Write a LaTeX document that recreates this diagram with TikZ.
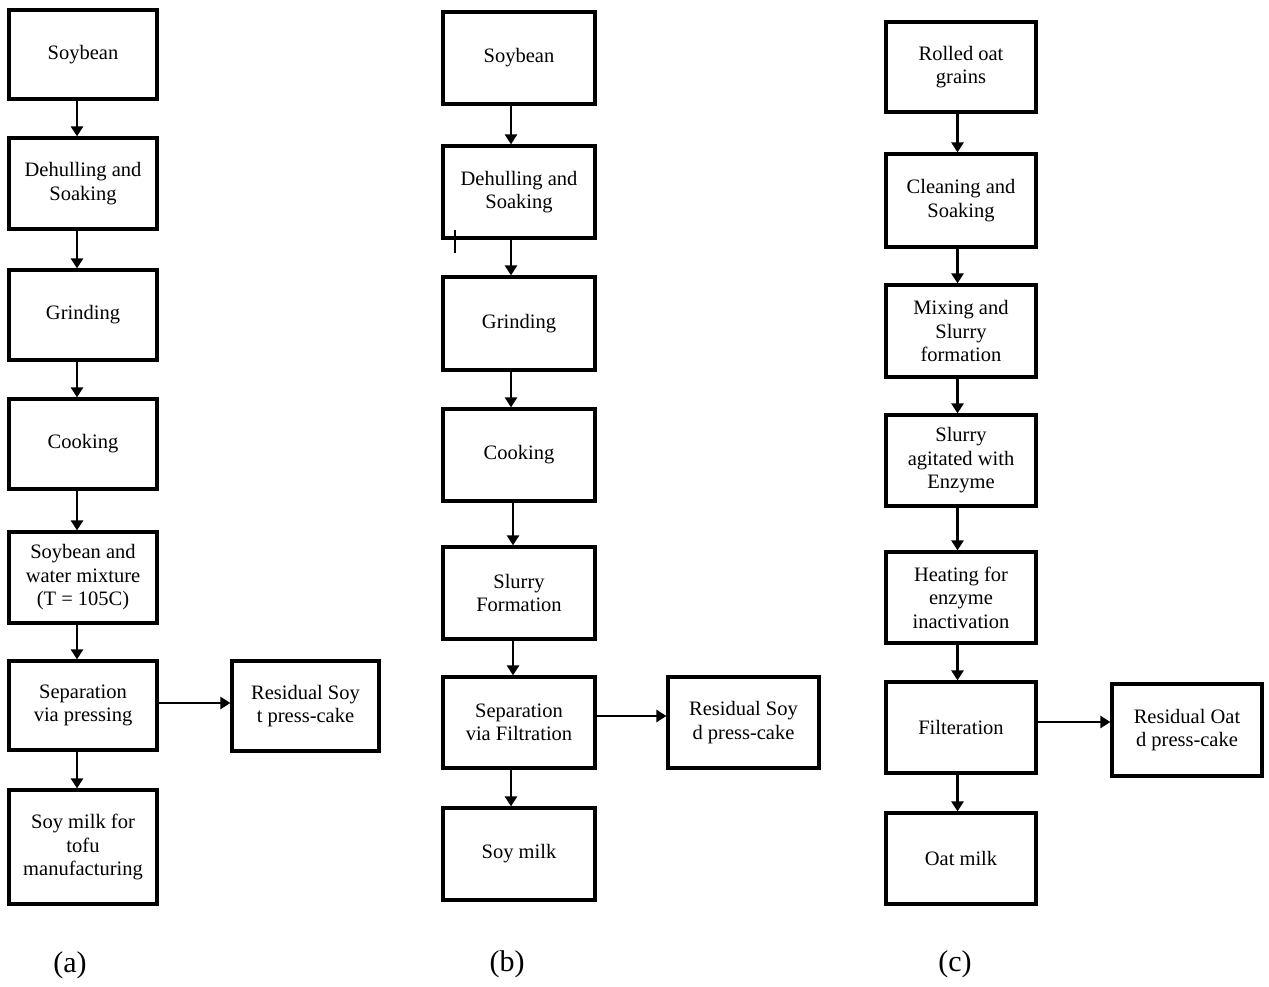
\documentclass[tikz,border=0pt]{standalone}
\usepackage{fontspec}
\setmainfont{Liberation Serif}
\usetikzlibrary{arrows.meta}
\begin{document}
\begin{tikzpicture}[x=1pt,y=-1pt,
  box/.style={draw=black, line width=3.2pt, align=center, inner sep=2pt,
    font=\fontsize{20.5}{23.5}\selectfont},
  arr/.style={draw=black, line width=2.5pt, -{Triangle[width=12pt,length=10pt]}},
  lbl/.style={font=\fontsize{30}{34}\selectfont}]
\useasboundingbox (0,0) rectangle (1269,987);
% ---------- (a) ----------
\node[box, minimum width=148pt, minimum height=89pt]  (a1) at (83,54.5)  {Soybean};
\node[box, minimum width=148pt, minimum height=91pt]  (a2) at (83,183.5) {Dehulling and\\Soaking};
\node[box, minimum width=148pt, minimum height=90pt]  (a3) at (83,315)   {Grinding};
\node[box, minimum width=148pt, minimum height=90pt]  (a4) at (83,444)   {Cooking};
\node[box, minimum width=148pt, minimum height=91pt]  (a5) at (83,577.5) {Soybean and\\water mixture\\(T = 105C)};
\node[box, minimum width=148pt, minimum height=89pt]  (a6) at (83,705.5) {Separation\\via pressing};
\node[box, minimum width=148pt, minimum height=114pt] (a7) at (83,847)   {Soy milk for\\tofu\\manufacturing};
\node[box, minimum width=147pt, minimum height=90pt]  (ar) at (305.5,706) {Residual Soy\\t press-cake};
\foreach \s/\t in {a1/a2,a2/a3,a3/a4,a4/a5,a5/a6,a6/a7}
  \draw[arr] ([xshift=-6pt]\s.south) -- ([xshift=-6pt]\t.north);
\draw[arr] ([yshift=2.5pt]a6.east) -- ([yshift=2.5pt]a6.east -| ar.west);
\node[lbl] (la) at (70,965) {(a)};
% ---------- (b) ----------
\node[box, minimum width=152pt, minimum height=92pt] (b1) at (519,58)    {Soybean};
\node[box, minimum width=152pt, minimum height=92pt] (b2) at (519,192)   {Dehulling and\\Soaking};
\node[box, minimum width=152pt, minimum height=93pt] (b3) at (519,323.5) {Grinding};
\node[box, minimum width=152pt, minimum height=92pt] (b4) at (519,455)   {Cooking};
\node[box, minimum width=152pt, minimum height=92pt] (b5) at (519,593)   {Slurry\\Formation};
\node[box, minimum width=152pt, minimum height=91pt] (b6) at (519,722.5) {Separation\\via Filtration};
\node[box, minimum width=152pt, minimum height=92pt] (b7) at (519,854)   {Soy milk};
\node[box, minimum width=151pt, minimum height=91pt] (br) at (743.5,722.5) {Residual Soy\\d press-cake};
\foreach \s/\t/\o in {b1/b2/-8,b2/b3/-8,b3/b4/-8,b4/b5/-6,b5/b6/-6,b6/b7/-8}
  \draw[arr] ([xshift=\o pt]\s.south) -- ([xshift=\o pt]\t.north);
\draw[arr] ([yshift=6.5pt]b6.east) -- ([yshift=6.5pt]b6.east -| br.west);
\coordinate (t1) at (455,230);
\coordinate (t2) at (455,253);
\draw[line width=2.2pt] (t1) -- (t2);
\node[lbl] (lb) at (507,964) {(b)};
% ---------- (c) ----------
\node[box, minimum width=150pt, minimum height=90pt] (c1) at (961,67)    {Rolled oat\\grains};
\node[box, minimum width=150pt, minimum height=93pt] (c2) at (961,200.5) {Cleaning and\\Soaking};
\node[box, minimum width=150pt, minimum height=92pt] (c3) at (961,331)   {Mixing and\\Slurry\\formation};
\node[box, minimum width=150pt, minimum height=91pt] (c4) at (961,460.5) {Slurry\\agitated with\\Enzyme};
\node[box, minimum width=150pt, minimum height=91pt] (c5) at (961,597.5) {Heating for\\enzyme\\inactivation};
\node[box, minimum width=150pt, minimum height=91pt] (c6) at (961,727.5) {Filteration};
\node[box, minimum width=150pt, minimum height=91pt] (c7) at (961,858.5) {Oat milk};
\node[box, minimum width=150pt, minimum height=92pt] (cr) at (1187,730) {Residual Oat\\d press-cake};
\foreach \s/\t in {c1/c2,c2/c3,c3/c4,c4/c5,c5/c6,c6/c7}
  \draw[arr] ([xshift=-3.5pt]\s.south) -- ([xshift=-3.5pt]\t.north);
\draw[arr] ([yshift=5.5pt]c6.east) -- ([yshift=5.5pt]c6.east -| cr.west);
\node[lbl] (lc) at (955,964) {(c)};
\end{tikzpicture}
\end{document}
